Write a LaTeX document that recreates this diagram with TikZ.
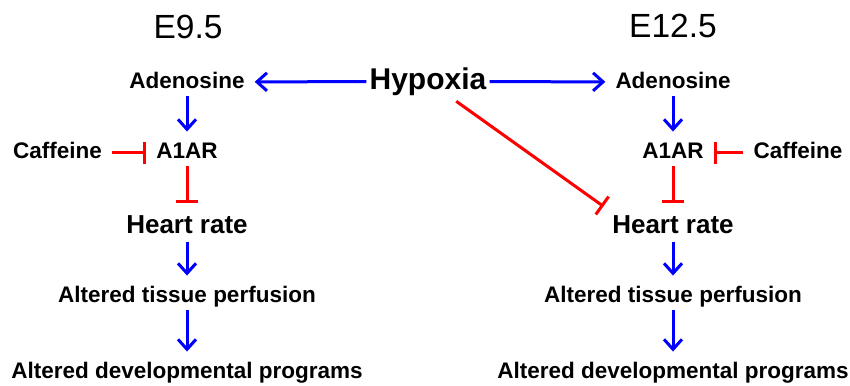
\documentclass[tikz,border=0pt]{standalone}
\usepackage{fontspec}
\setmainfont{Liberation Sans}
\usetikzlibrary{arrows.meta}

\begin{document}
\begin{tikzpicture}[
  x=1pt, y=-1pt,
  every node/.style={font=\fontsize{22.5}{27}\selectfont\bfseries,
    text height=17pt, text depth=4.5pt, inner sep=3pt},
  stage/.style={font=\fontsize{33.5}{40}\selectfont, text height=25pt, text depth=6.7pt},
  big/.style={font=\fontsize{30}{36}\selectfont\bfseries, text height=22.5pt, text depth=6pt},
  rate/.style={font=\fontsize{26}{31}\selectfont\bfseries, text height=19.5pt, text depth=5.2pt},
  act/.style={blue, line width=3pt, -{Straight Barb[length=10pt,width=18pt]}, shorten >=7pt},
  inh/.style={red, line width=3pt, -{Bar[width=22pt]}, shorten >=7pt}
]
  \useasboundingbox (0,0) rectangle (850,385);

  \node[stage] (e95)  at (188,29) {E9.5};
  \node[stage] (e125) at (673,28) {E12.5};
  \node[big]   (hyp)  at (428,81.5) {Hypoxia};

  \node (adL)  at (187,82)    {Adenosine};
  \node (a1L)  at (187,152.5) {A1AR};
  \node (cafL) at (57.5,152.5) {Caffeine};
  \node[rate] (hrL) at (187,226) {Heart rate};
  \node (atpL) at (187,296.5) {Altered tissue perfusion};
  \node (adpL) at (187,372.5) {Altered developmental programs};

  \node (adR)  at (673,82)    {Adenosine};
  \node (a1R)  at (673,152.5) {A1AR};
  \node (cafR) at (798,152.5) {Caffeine};
  \node[rate] (hrR) at (673,226) {Heart rate};
  \node (atpR) at (673,296.5) {Altered tissue perfusion};
  \node (adpR) at (673,372.5) {Altered developmental programs};

  \draw[act] (hyp) -- (adL);
  \draw[act] (hyp) -- (adR);
  \draw[act] (adL) -- (a1L);
  \draw[act] (adR) -- (a1R);
  \draw[inh, shorten <=7pt] (cafL) -- (a1L);
  \draw[inh, shorten <=7pt] (cafR) -- (a1R);
  \draw[inh] (a1L) -- (hrL);
  \draw[inh] (a1R) -- (hrR);
  \draw[inh, shorten <=4pt] ([xshift=25pt]hyp.south) -- (hrR.north west);
  \draw[act] (hrL) -- (atpL);
  \draw[act] (hrR) -- (atpR);
  \draw[act] (atpL) -- (adpL);
  \draw[act] (atpR) -- (adpR);
\end{tikzpicture}
\end{document}
